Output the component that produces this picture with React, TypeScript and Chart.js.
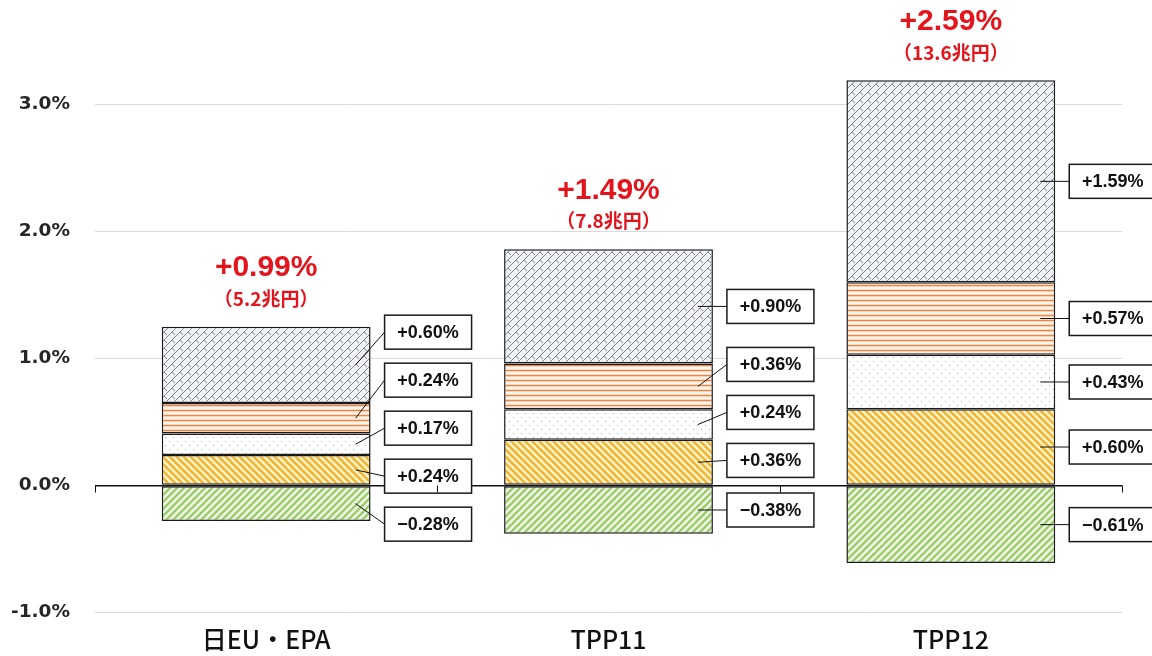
import React, { useEffect, useRef } from "react";
import { Chart, registerables } from "chart.js";

Chart.register(...registerables);

// ---- data ----
const categories = ["日EU・EPA", "TPP11", "TPP12"];
const seriesGreen = [-0.28, -0.38, -0.61];
const seriesYellow = [0.24, 0.36, 0.6];
const seriesDots = [0.17, 0.24, 0.43];
const seriesOrange = [0.24, 0.36, 0.57];
const seriesGray = [0.6, 0.9, 1.59];
const totalPct = [0.99, 1.49, 2.59];
const totalYen = ["5.2", "7.8", "13.6"];
const yTicks = [-1, 0, 1, 2, 3];

const RED = "#e3141c";

function makeTile(w: number, h: number, draw: (c: CanvasRenderingContext2D) => void) {
  const cv = document.createElement("canvas");
  cv.width = w;
  cv.height = h;
  const c = cv.getContext("2d")!;
  draw(c);
  return c.createPattern(cv, "repeat")!;
}

function stripes(bg: string, fg: string, s: number, lw: number, dir: "/" | "\\") {
  return makeTile(s, s, (c) => {
    c.fillStyle = bg;
    c.fillRect(0, 0, s, s);
    c.strokeStyle = fg;
    c.lineWidth = lw;
    for (let n = -2; n <= 2; n++) {
      c.beginPath();
      if (dir === "\\") {
        c.moveTo(n * s - 2, -2);
        c.lineTo(n * s + s + 2, s + 2);
      } else {
        c.moveTo(n * s - 2, s + 2);
        c.lineTo(n * s + s + 2, -2);
      }
      c.stroke();
    }
  });
}

function fmt(v: number) {
  return (v >= 0 ? "+" : "\u2212") + Math.abs(v).toFixed(2) + "%";
}

// spread label boxes so they don't overlap (cluster merge)
function spread(anchors: number[], G: number, bias: number) {
  let clusters = anchors.map((a, i) => ({ idx: [i], mean: a }));
  const place = (cl: any) => {
    const m = cl.idx.length;
    const c = cl.mean - (m > 1 ? bias : 0);
    return cl.idx.map((_: number, k: number) => c + (k - (m - 1) / 2) * G);
  };
  let merged = true;
  while (merged) {
    merged = false;
    for (let k = 1; k < clusters.length; k++) {
      const a = place(clusters[k - 1]);
      const b = place(clusters[k]);
      if (b[0] - a[a.length - 1] < G) {
        const idx = clusters[k - 1].idx.concat(clusters[k].idx);
        const mean = idx.reduce((s: number, i: number) => s + anchors[i], 0) / idx.length;
        clusters.splice(k - 1, 2, { idx, mean });
        merged = true;
        break;
      }
    }
  }
  const out = new Array(anchors.length);
  clusters.forEach((cl) => {
    const p = place(cl);
    cl.idx.forEach((i: number, k: number) => (out[i] = p[k]));
  });
  return out;
}

export default function App() {
  const ref = useRef<HTMLCanvasElement | null>(null);

  useEffect(() => {
    if (!ref.current) return;

    const patGreen = stripes("#ebf4df", "#97c966", 7, 2.2, "/");
    const patYellow = stripes("#fff1c2", "#efb431", 7, 2.4, "\\");
    const patDots = makeTile(8, 8, (c) => {
      c.fillStyle = "#ffffff";
      c.fillRect(0, 0, 8, 8);
      c.fillStyle = "#a8a8a8";
      c.fillRect(1, 1, 1, 1);
      c.fillRect(5, 5, 1, 1);
    });
    const patOrange = makeTile(4, 5, (c) => {
      const rows = ["#e6874c", "#fbd2b2", "#fff5ec", "#fff5ec", "#fad9c0"];
      rows.forEach((col, i) => {
        c.fillStyle = col;
        c.fillRect(0, i, 4, 1);
      });
    });
    const patGray = makeTile(8, 8, (c) => {
      c.fillStyle = "#eef2f7";
      c.fillRect(0, 0, 8, 8);
      c.strokeStyle = "#858585";
      c.lineWidth = 1;
      c.beginPath();
      c.moveTo(-1, 9);
      c.lineTo(9, -1);
      c.moveTo(4, 4);
      c.lineTo(7, 7);
      c.stroke();
    });

    const labelPlugin = {
      id: "labels",
      afterDatasetsDraw(chart: any) {
        const ctx: CanvasRenderingContext2D = chart.ctx;
        const n = chart.data.labels.length;
        const xScale = chart.scales.x;
        const yScale = chart.scales.y;
        const zeroY = yScale.getPixelForValue(0);
        ctx.save();
        for (let i = 0; i < n; i++) {
          const items: any[] = [];
          let topY = Infinity;
          let cx = 0;
          chart.data.datasets.forEach((ds: any, j: number) => {
            const el = chart.getDatasetMeta(j).data[i];
            const p = el.getProps(["x", "y", "base", "width"], true);
            cx = p.x;
            const v = ds.data[i];
            if (v > 0) topY = Math.min(topY, p.y, p.base);
            items.push({
              anchorY: (p.y + p.base) / 2,
              right: p.x + p.width / 2,
              text: fmt(v),
            });
          });
          items.sort((a, b) => a.anchorY - b.anchorY);
          const pos = spread(items.map((it) => it.anchorY), 48, 12);
          const bw = 87;
          const bh = 34;
          items.forEach((itm, k) => {
            const py = pos[k];
            const ax = itm.right - 15;
            const bx = itm.right + 14;
            ctx.strokeStyle = "#111";
            ctx.lineWidth = 1;
            ctx.beginPath();
            ctx.moveTo(ax, itm.anchorY);
            ctx.lineTo(bx, py);
            ctx.stroke();
            ctx.fillStyle = "#ffffff";
            ctx.fillRect(bx, py - bh / 2, bw, bh);
            ctx.strokeStyle = "#1a1a1a";
            ctx.lineWidth = 1.5;
            ctx.strokeRect(bx, py - bh / 2, bw, bh);
            ctx.fillStyle = "#111";
            ctx.font = "bold 18px 'Liberation Sans', Arial, sans-serif";
            ctx.textAlign = "center";
            ctx.textBaseline = "middle";
            ctx.fillText(itm.text, bx + bw / 2, py + 1);
          });
          // totals
          ctx.fillStyle = RED;
          ctx.textAlign = "center";
          ctx.textBaseline = "middle";
          ctx.font = "bold 30px 'Liberation Sans', Arial, sans-serif";
          ctx.fillText("+" + totalPct[i].toFixed(2) + "%", cx, topY - 59);
          ctx.font = "bold 19px 'Noto Sans CJK JP', sans-serif";
          ctx.fillText("（" + totalYen[i] + "兆円）", cx, topY - 28);
        }
        // category boundary ticks
        const step = (chart.chartArea.right - chart.chartArea.left) / n;
        ctx.strokeStyle = "#111";
        ctx.lineWidth = 1;
        for (let k = 0; k <= n; k++) {
          const x = Math.round(chart.chartArea.left + k * step) + 0.5;
          ctx.beginPath();
          ctx.moveTo(x, zeroY);
          ctx.lineTo(x, zeroY + 7);
          ctx.stroke();
        }
        // category labels
        ctx.fillStyle = "#111";
        ctx.font = "500 25px 'Noto Sans CJK JP', sans-serif";
        ctx.textAlign = "center";
        ctx.textBaseline = "middle";
        chart.data.labels.forEach((lab: string, i: number) => {
          ctx.fillText(lab, xScale.getPixelForValue(i), 639);
        });
        ctx.restore();
      },
    };

    const common = {
      borderColor: "#1a1a1a",
      borderWidth: 1.5,
      borderSkipped: false,
      barPercentage: 0.61,
      categoryPercentage: 1.0,
    };

    const chart = new Chart(ref.current, {
      type: "bar",
      data: {
        labels: categories,
        datasets: [
          { label: "green", data: seriesGreen, backgroundColor: patGreen, ...common },
          { label: "yellow", data: seriesYellow, backgroundColor: patYellow, ...common },
          { label: "dots", data: seriesDots, backgroundColor: patDots, ...common },
          { label: "orange", data: seriesOrange, backgroundColor: patOrange, ...common },
          { label: "gray", data: seriesGray, backgroundColor: patGray, ...common },
        ] as any,
      },
      options: {
        responsive: false,
        animation: false,
        layout: { padding: { top: 41, bottom: 43.5, left: 0, right: 30 } },
        plugins: {
          legend: { display: false },
          tooltip: { enabled: false },
          title: { display: false },
        },
        scales: {
          x: {
            stacked: true,
            display: false,
          },
          y: {
            stacked: true,
            min: -1,
            max: 3.5,
            afterBuildTicks: (scale: any) => {
              scale.ticks = yTicks.map((v) => ({ value: v }));
            },
            afterFit: (scale: any) => {
              scale.width = 95;
            },
            border: { display: false },
            grid: {
              drawTicks: false,
              color: (c: any) => (c.tick && c.tick.value === 0 ? "#111111" : "#d9d9d9"),
              lineWidth: (c: any) => (c.tick && c.tick.value === 0 ? 1.5 : 1),
            },
            ticks: {
              padding: 25,
              color: "#262626",
              font: { family: "'DejaVu Sans', sans-serif", size: 18.5, weight: "bold" },
              callback: (v: any) => Number(v).toFixed(1) + "%",
            },
          },
        },
      } as any,
      plugins: [labelPlugin],
    });

    return () => chart.destroy();
  }, []);

  return (
    <div style={{ position: "absolute", left: 0, top: 0, width: 1152, height: 656, background: "#fff" }}>
      <canvas ref={ref} width={1152} height={656} style={{ display: "block" }} />
    </div>
  );
}
